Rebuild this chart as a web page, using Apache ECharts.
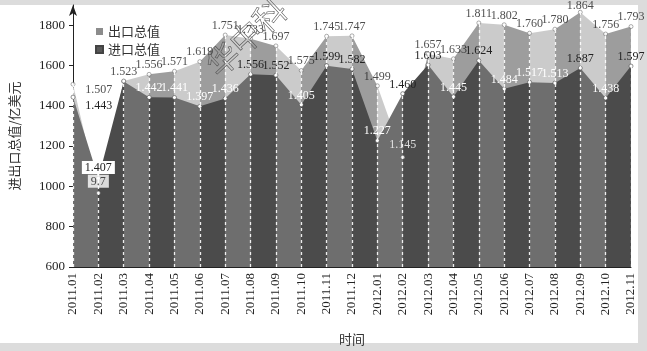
<!DOCTYPE html>
<html>
<head>
<meta charset="utf-8">
<script src="https://cdn.jsdelivr.net/npm/echarts@6/dist/echarts.min.js"></script>
<style>
  html, body { margin: 0; padding: 0; background: #dcdcdc; }
  #main { width: 647px; height: 351px; }
</style>
</head>
<body>
<div id="main"></div>
<script>
const months = ['2011.01', '2011.02', '2011.03', '2011.04', '2011.05', '2011.06', '2011.07', '2011.08',
  '2011.09', '2011.10', '2011.11', '2011.12', '2012.01', '2012.02', '2012.03', '2012.04', '2012.05',
  '2012.06', '2012.07', '2012.08', '2012.09', '2012.10', '2012.11']
// 亿美元
const exportVals = [1507, 967, 1523, 1556, 1571, 1619, 1751, 1733, 1697, 1575, 1745, 1747,
  1499, 1145, 1657, 1633, 1811, 1802, 1760, 1780, 1864, 1756, 1793]
const importVals = [1443, 1040, 1521, 1442, 1441, 1397, 1436, 1556, 1552, 1405, 1599, 1582,
  1227, 1460, 1603, 1445, 1624, 1484, 1517, 1513, 1587, 1438, 1597]
// labels as printed in the figure (where they differ from value / 1000)
const exportPrinted = { 1: '9.7' }
const importPrinted = { 1: '1.407', 2: '', 20: '1.887' }
const yTicks = [600, 800, 1000, 1200, 1400, 1600, 1800]

// which import labels are printed in black instead of white
const importDark = [0, 1, 7, 8, 10, 11, 13, 14, 16, 20, 22]

const serif = '"Liberation Serif", "Times New Roman", serif'
const cjk = '"Noto Sans CJK SC", sans-serif'

function bands (even, odd) {
  const n = months.length - 1
  const stops = []
  for (let k = 0; k < n; k++) {
    const c = k % 2 === 0 ? even : odd
    stops.push({ offset: k / n, color: c }, { offset: (k + 1) / n, color: c })
  }
  return new echarts.graphic.LinearGradient(0, 0, 1, 0, stops)
}

function fmt (v) {
  return (v / 1000).toFixed(3)
}

const exportData = exportVals.map((v, i) => {
  const item = { value: v, label: { formatter: i in exportPrinted ? exportPrinted[i] : fmt(v) } }
  if (i === 0) Object.assign(item.label, { position: 'right', distance: 10, offset: [0, 6] })
  if (i === 1) Object.assign(item.label, { backgroundColor: '#fff', padding: [1, 3, 0, 3], distance: 3 })
  if (i === 13) Object.assign(item.label, { color: '#fff', distance: 4 })
  if (i === 20) Object.assign(item.label, { offset: [0, 3] })
  return item
})

const importData = importVals.map((v, i) => {
  const item = {
    value: v,
    label: {
      formatter: i in importPrinted ? importPrinted[i] : fmt(v),
      color: importDark.includes(i) ? '#222' : '#fff'
    }
  }
  if (i === 0) Object.assign(item.label, { position: 'right', distance: 10, offset: [0, 9] })
  if (i === 1) Object.assign(item.label, { backgroundColor: '#fff', padding: [1, 3, 0, 3], distance: 2 })
  return item
})

const dropLines = months.map((m, i) => [
  { coord: [m, 600] },
  { coord: [m, Math.max(exportVals[i], importVals[i])] }
])

const chart = echarts.init(document.getElementById('main'))
chart.setOption({
  animation: false,
  backgroundColor: '#dcdcdc',
  graphic: [
    { type: 'rect', z: -100, silent: true, shape: { x: 0, y: 5, width: 638, height: 338 }, style: { fill: '#fff' } },
    {
      type: 'text', z: 100, silent: true, x: 200, y: 58, rotation: Math.PI / 4.2,
      style: { text: '华中科', font: '32px ' + cjk, fill: 'rgba(0,0,0,0)', stroke: '#555', lineWidth: 0.6 }
    }
  ],
  grid: { left: 62, right: 16, top: 5, bottom: 79.5 },
  legend: {
    orient: 'vertical',
    left: 90,
    top: 20,
    itemWidth: 7,
    itemHeight: 7,
    itemGap: 5,
    icon: 'rect',
    textStyle: { fontFamily: cjk, fontSize: 13, color: '#333' },
    data: [
      { name: '出口总值', itemStyle: { color: '#8c8c8c' } },
      { name: '进口总值', itemStyle: { color: '#585858' } }
    ]
  },
  xAxis: {
    type: 'category',
    data: months,
    boundaryGap: false,
    name: '时间',
    nameLocation: 'middle',
    nameGap: 66,
    nameTextStyle: { fontFamily: cjk, fontSize: 13, color: '#333' },
    axisLine: { lineStyle: { color: '#222' } },
    axisTick: { show: false },
    axisLabel: { rotate: 90, margin: 6, fontFamily: serif, fontSize: 13, color: '#222', interval: 0 },
    splitLine: { show: false }
  },
  yAxis: {
    type: 'value',
    min: 600,
    max: 1900,
    name: '进出口总值/亿美元',
    nameLocation: 'middle',
    nameRotate: 90,
    nameGap: 52,
    nameTextStyle: { fontFamily: cjk, fontSize: 13, color: '#333' },
    axisLine: { show: true, symbol: ['none', 'arrow'], symbolSize: [6, 11], lineStyle: { color: '#222' } },
    axisTick: { show: true, length: 4, customValues: yTicks, lineStyle: { color: '#222' } },
    axisLabel: { customValues: yTicks, formatter: v => String(v), margin: 8, fontFamily: serif, fontSize: 13, color: '#222' },
    splitLine: { show: false }
  },
  series: [
    {
      name: '出口总值',
      type: 'line',
      data: exportVals,
      symbol: 'none',
      lineStyle: { width: 0 },
      areaStyle: { color: bands('#cbcbcb', '#9d9d9d'), opacity: 1 },
      emphasis: { disabled: true },
      z: 2
    },
    {
      name: '进口总值',
      type: 'line',
      data: importData,
      symbol: 'circle',
      symbolSize: 4,
      itemStyle: { color: '#fff', borderColor: '#444', borderWidth: 0.6 },
      lineStyle: { width: 0 },
      areaStyle: { color: bands('#6e6e6e', '#4b4b4b'), opacity: 1 },
      label: { show: true, position: 'top', distance: 1, fontFamily: serif, fontSize: 12 },
      emphasis: { disabled: true },
      markLine: {
        silent: true,
        symbol: 'none',
        label: { show: false },
        lineStyle: { color: '#fff', type: [3, 3], width: 1.3, opacity: 0.9 },
        emphasis: { disabled: true },
        data: dropLines
      },
      z: 3
    },
    {
      // export points and labels, kept above the import area
      name: '出口标注',
      type: 'scatter',
      data: exportData,
      symbol: 'circle',
      symbolSize: 4,
      itemStyle: { color: '#fff', borderColor: '#555', borderWidth: 0.6 },
      label: { show: true, position: 'top', distance: 1, fontFamily: serif, fontSize: 12, color: '#222' },
      emphasis: { disabled: true },
      z: 4
    }
  ]
})
</script>
</body>
</html>
